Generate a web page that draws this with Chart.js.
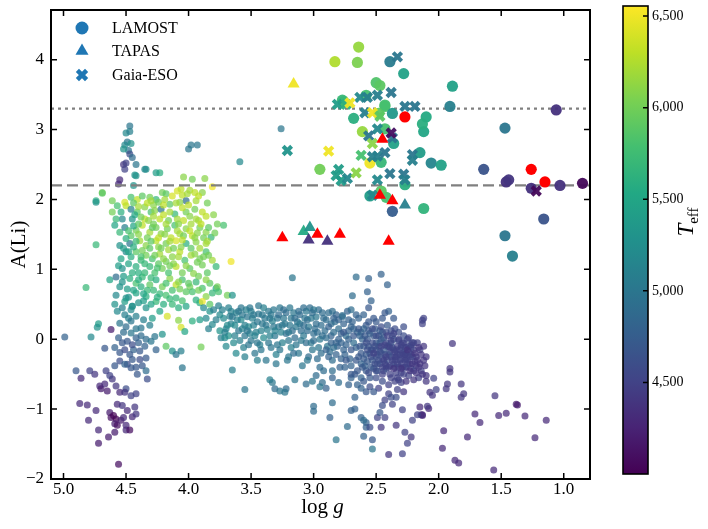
<!DOCTYPE html>
<html><head><meta charset="utf-8">
<script src="https://cdn.jsdelivr.net/npm/chart.js@4.4.1/dist/chart.umd.min.js"></script>
<style>
html,body{margin:0;padding:0;background:#fff;}
#wrap{position:relative;width:708px;height:529px;}
#main{position:absolute;left:0;top:0;}
#cbar{position:absolute;left:600px;top:0;}
</style></head><body>
<div id="wrap"><canvas id="main" width="708" height="529"></canvas><canvas id="cbar" width="108" height="529"></canvas></div>
<script>
// ---------- DATA ----------
const teffRange = [4000, 6555];
const xTicks = [5.0, 4.5, 4.0, 3.5, 3.0, 2.5, 2.0, 1.5, 1.0];
const yTicks = [-2, -1, 0, 1, 2, 3, 4];
const cbTicks = [4500, 5000, 5500, 6000, 6500];
const refLines = [3.3, 2.2];

// background field stars: [logg, A(Li), Teff]
const fieldStars = [
[4.47,3.05,5000],[4.50,2.95,5200],[4.47,2.97,5100],[4.49,2.82,5000],[4.46,2.80,5300],[4.51,2.78,5200],[4.48,2.70,5000],[4.52,2.72,5300],[4.47,2.65,4600],[4.45,2.60,4900],[4.52,2.50,4400],[4.50,2.52,4500],[4.51,2.43,4500],[4.42,2.50,5000],[4.34,2.43,5300],[4.23,2.38,5600],[4.43,2.35,5300],[4.55,2.28,4300],[4.56,2.22,4300],[4.44,2.20,5300],
[4.00,2.72,5000],[3.98,2.78,5000],[3.93,2.78,5000],[3.59,2.54,5200],[3.26,3.01,5000],[4.74,1.98,5600],[4.69,2.10,6000],[4.74,1.35,5700],
[4.04,2.32,6100],[3.97,2.29,6000],[3.87,2.30,6100],[4.26,2.38,5400],[4.35,2.43,5200],[4.42,2.34,5300],[4.69,2.09,5900],[4.74,1.96,5300],
[4.61,1.98,6000],[4.51,1.96,6400],[4.46,2.03,5800],[4.41,2.00,6300],[4.37,2.05,5900],[4.31,2.03,6000],[4.26,2.00,5700],[4.21,2.10,6000],[4.18,2.08,5900],[4.09,2.12,6400],[4.05,2.06,6300],[4.01,2.08,6200],[4.02,1.98,4900],[3.94,1.98,6200],[3.89,2.10,6100],[3.81,2.18,6500],
[4.61,1.82,6000],[4.57,1.91,5800],[4.54,1.82,5600],[4.50,1.91,6300],[4.46,1.86,5100],[4.41,1.82,5900],[4.35,1.89,6100],[4.30,1.82,5800],[4.27,1.84,6100],[4.22,1.86,5000],[4.15,1.93,5900],[4.11,1.79,5700],[4.07,1.96,6100],[4.02,1.82,6000],[3.95,1.86,6000],[3.94,1.72,6200],[3.89,1.82,6300],[4.35,1.72,6300],[4.23,1.72,6300],[4.45,1.72,5300],[4.53,1.72,5200],[4.58,1.72,5700],
[4.59,1.63,5500],[4.55,1.53,5700],[4.51,1.60,5100],[4.46,1.48,5900],[4.42,1.56,6000],[4.37,1.63,6300],[4.31,1.53,6200],[4.26,1.60,6000],[4.22,1.51,6100],[4.17,1.58,6000],[4.11,1.63,5800],[4.07,1.51,6200],[4.02,1.58,6100],[3.97,1.48,6300],[3.91,1.60,6000],[3.86,1.53,6100],[3.82,1.46,5700],[3.77,1.65,6000],[3.72,1.63,5800],
[4.47,1.37,5000],[4.39,1.41,6200],[4.34,1.34,6100],[4.26,1.41,6300],[4.18,1.37,6000],[4.10,1.41,6400],[4.02,1.37,5600],[3.94,1.39,6100],[3.86,1.37,6200],[4.55,1.34,5300],[4.50,1.44,5600],[3.66,1.11,6500],
[4.54,1.15,5500],[4.50,1.25,5200],[4.46,1.18,5600],[4.42,1.25,5900],[4.38,1.13,5700],[4.34,1.20,6000],[4.29,1.15,5800],[4.23,1.22,6200],[4.18,1.11,6000],[4.13,1.18,6100],[4.07,1.25,6300],[4.03,1.13,5800],[3.98,1.20,6200],[3.91,1.15,6000],[3.86,1.25,5800],[3.81,1.13,6200],[3.78,1.04,5700],[4.53,1.01,5300],[4.42,1.04,5600],[4.31,1.04,5700],[4.21,1.01,6000],[4.10,1.04,6300],[3.99,1.01,5900],[3.89,1.06,6000],
[4.63,0.85,5500],[4.58,0.89,4900],[4.53,0.82,5300],[4.47,0.87,5600],[4.42,0.80,5800],[4.37,0.89,5700],[4.31,0.78,5900],[4.26,0.85,5600],[4.21,0.75,6000],[4.15,0.87,6100],[4.10,0.78,6300],[4.05,0.85,5800],[3.99,0.75,6000],[3.94,0.82,5700],[3.89,0.73,5800],[3.83,0.80,5900],[3.78,0.73,5500],
[4.58,0.63,5200],[4.50,0.59,5300],[4.42,0.66,5500],[4.34,0.61,5600],[4.26,0.54,5700],[4.18,0.63,5800],[4.10,0.59,5700],[4.02,0.68,5900],[3.94,0.56,5600],[3.86,0.61,6100],[4.45,0.47,5200],[4.34,0.45,5300],[4.13,0.50,5700],[4.02,0.47,5500],[3.91,0.52,5600],[4.53,0.45,5100],
[4.44,1.95,5900],[4.40,1.90,6200],[4.33,1.95,6300],[4.28,1.92,6100],[4.24,1.96,6000],[4.19,2.00,6200],[4.13,2.05,6400],[4.06,2.15,6300],[3.99,2.13,6200],[3.92,2.05,6300],[3.85,1.95,6000],[4.43,1.78,5500],[4.38,1.75,6000],[4.32,1.70,6100],[4.28,1.76,6200],[4.20,1.78,6300],[4.16,1.70,6000],[4.09,1.72,6200],[4.04,1.70,6300],[3.99,1.76,6100],[3.92,1.70,6200],[3.86,1.76,6300],[3.80,1.78,6100],
[4.48,1.55,5800],[4.44,1.62,5500],[4.40,1.50,6100],[4.33,1.45,6000],[4.29,1.60,5900],[4.24,1.45,6300],[4.19,1.50,6100],[4.14,1.45,6300],[4.09,1.55,6200],[4.04,1.48,6000],[3.99,1.55,6300],[3.93,1.52,6100],[3.88,1.45,6000],[3.84,1.60,5900],[3.79,1.52,6000],
[4.52,1.30,5400],[4.44,1.32,5600],[4.37,1.27,6000],[4.31,1.30,5900],[4.24,1.32,6100],[4.16,1.28,6200],[4.12,1.30,6000],[4.06,1.32,6100],[3.98,1.30,5900],[3.91,1.30,6200],[3.84,1.20,6000],
[4.56,1.05,5400],[4.48,1.08,5500],[4.40,0.95,5600],[4.35,1.08,5700],[4.27,0.95,5800],[4.24,1.08,5900],[4.16,0.95,5800],[4.12,1.08,6100],[4.05,0.95,6000],[3.96,0.94,6100],[3.93,1.10,6000],[3.85,0.95,5900],
[4.55,0.75,5300],[4.49,0.72,5400],[4.44,0.70,5500],[4.38,0.75,5600],[4.33,0.70,5700],[4.28,0.70,5700],[4.23,0.65,5700],[4.13,0.70,5800],[4.07,0.72,6000],[3.97,0.68,5800],[3.81,0.66,5700],
[4.48,0.60,5300],[4.40,0.52,5300],[4.36,0.55,5400],[4.30,0.50,5500],[4.20,0.50,5600],[4.08,0.45,5600],[4.42,0.15,5000],[4.38,0.05,4900],[4.44,-0.15,4800],[4.40,-0.05,4800],[4.36,0.28,5100],[4.31,0.20,5100],[4.48,0.30,5100],[4.52,0.10,4900],[4.56,0.02,4800],[4.53,-0.05,4700],[4.47,-0.22,4700],[4.42,-0.40,4700],[4.37,-0.38,4700],
[4.30,1.98,6200],[4.20,1.92,6300],[4.10,1.95,6200],[4.00,1.92,6300],[3.95,2.10,6300],[4.15,1.82,6200],[4.05,1.88,6300],[3.98,1.65,6200],[4.08,1.65,6100],[4.18,1.65,6200],[4.28,1.65,6000],[4.40,1.65,5900],[3.90,1.65,6300],[3.85,1.40,6200],[3.95,1.45,6100],[4.05,1.42,6300],[4.15,1.40,6200],[4.22,1.30,6000],[4.30,1.40,5900],[4.42,1.40,5700],[4.48,1.25,5500],[4.38,1.18,5800],[4.27,1.20,6000],[4.20,1.15,6100],[4.08,1.18,6200],[3.95,1.22,6100],[3.88,1.18,6000],[4.45,0.95,5600],[4.35,0.95,5700],[4.25,1.02,5800],[4.15,1.05,6000],[4.02,1.05,6100],[3.92,0.90,6000],[3.86,0.85,6100],[4.52,0.90,5400],[4.40,0.85,5600],[4.30,0.88,5700],[4.18,0.80,5800],[4.08,0.82,6100],[4.00,0.80,5900],[3.92,0.70,6000],[4.36,0.65,5500],[4.25,0.60,5600],[4.15,0.58,5700],[4.05,0.55,5800],
[4.82,0.74,5700],[3.69,0.63,6000],[3.65,0.63,5300],[3.77,0.75,6000],[3.76,0.68,5800],[3.89,0.54,6500],[3.83,0.50,5900],
[4.99,0.03,4800],[4.78,0.03,5200],[4.72,0.22,5400],[4.73,0.17,5300],[4.62,0.14,4200],[4.67,-0.13,4700],
[4.59,-0.12,4800],[4.55,-0.19,4700],[4.51,-0.15,4600],[4.49,-0.03,4700],[4.45,-0.08,4600],[4.42,0.02,4800],[4.46,0.09,5000],[4.50,0.18,4900],[4.46,0.26,5000],[4.42,0.33,5100],[4.38,0.16,5000],[4.39,-0.17,4700],[4.35,-0.10,4800],[4.34,0.00,4900],[4.30,-0.03,5000],[4.27,0.04,5000],[4.26,-0.15,4800],[4.34,-0.27,4700],[4.39,-0.29,4600],[4.45,-0.29,4700],[4.49,-0.36,4600],[4.55,0.23,5000],[4.51,0.35,5100],[4.46,0.42,5200],[4.57,0.40,5200],[4.59,0.50,5300],[4.51,0.54,5400],[4.45,0.47,5300],
[4.18,-0.10,5900],[4.13,-0.17,5300],[4.10,-0.22,5000],[4.06,-0.17,5100],[4.05,-0.41,5000],[3.90,-0.11,6000],[4.06,0.17,6400],[4.08,0.27,6100],[3.97,0.26,5600],[3.91,0.28,5400],[4.03,0.11,5500],[4.21,0.07,5300],[4.17,0.33,6400],[4.29,0.30,5400],[4.23,0.40,5500],[3.83,0.40,5300],[3.81,0.21,5200],[3.75,0.35,5200],[3.74,0.02,5100],
[4.90,-0.45,4700],[4.86,-0.56,4300],[4.79,-0.45,4500],[4.75,-0.50,4400],[4.71,-0.67,4300],[4.70,-0.71,4200],[4.67,-0.64,4300],[4.65,-0.74,4200],[4.87,-0.92,4300],[4.81,-0.94,4300],[4.80,-1.16,4300],[4.74,-1.02,4300],[4.72,-1.30,4300],[4.72,-1.49,4200],[4.64,-1.40,4200],[4.59,-1.33,4200],[4.56,-1.79,4100],
[4.63,-1.05,4200],[4.62,-1.12,4100],[4.60,-1.09,4000],[4.58,-1.14,4000],[4.59,-1.21,4200],[4.57,-1.23,4100],[4.54,-1.16,4200],[4.52,-1.12,4300],[4.50,-1.23,4300],[4.50,-1.30,4300],[4.49,-1.02,4300],[4.47,-1.30,4100],[4.57,-0.93,4300],[4.53,-0.95,4400],[4.45,-1.11,4300],[4.42,-1.07,4400],[4.43,-0.97,4400],
[4.42,-0.78,4500],[4.46,-0.81,4500],[4.50,-0.71,4600],[4.61,-0.57,4400],[4.58,-0.67,4400],[4.55,-0.76,4300],[4.51,-0.76,4400],[4.66,-0.45,4500],[4.63,-0.52,4500],[4.59,-0.38,4700],[4.55,-0.31,4600],[4.51,-0.36,4800],[4.46,-0.41,4700],[4.41,-0.50,4700],[4.34,-0.45,4900],[4.33,-0.57,4600],
[3.72,0.30,5200],[3.70,0.15,5100],[3.68,0.05,5300],[3.66,0.22,5100],[3.64,-0.05,5200],[3.62,0.38,5100],[3.60,0.12,5000],[3.58,0.28,5200],[3.56,-0.12,5100],[3.55,0.05,5000],[3.54,0.42,5100],[3.52,0.18,5200],[3.50,-0.02,5000],[3.49,0.30,5100],[3.47,-0.20,5000],[3.46,0.10,5100],[3.44,0.36,5000],[3.43,-0.08,5100],[3.41,0.22,5000],[3.40,0.02,5200],[3.38,-0.30,5000],[3.37,0.14,5100],[3.36,0.40,5000],[3.34,-0.12,5000],[3.33,0.26,5100],[3.31,0.05,5000],[3.30,-0.22,5100],[3.28,0.18,5000],[3.27,0.45,5000],[3.25,-0.05,5100],[3.24,0.30,5000],[3.22,0.08,4900],[3.21,-0.30,5000],[3.19,0.20,5000],[3.18,-0.12,5100],[3.16,0.38,5000],[3.15,0.02,4900],[3.13,0.25,5000],[3.12,-0.20,5000],[3.10,0.12,4900],[3.09,-0.38,5000],[3.07,0.30,5000],[3.06,-0.05,4900],[3.04,0.18,5000],[3.03,0.45,4900],[3.01,-0.15,5000],[3.00,0.08,4900],[2.98,0.32,5000],[2.97,-0.28,4900],[2.95,0.00,5000],[2.94,0.20,4900],[2.92,-0.45,4900],[2.91,0.12,4900],[2.89,-0.10,5000],[2.88,0.38,4900],[2.86,0.05,4800],[2.85,-0.30,4900],[2.83,0.25,4900],[2.82,-0.05,4800],[2.80,0.15,4900],[2.79,-0.40,4800],[2.77,0.32,4900],[2.76,-0.15,4800],[2.74,0.05,4900],[2.73,0.40,4800],[2.71,-0.28,4800],[2.70,0.18,4800],[2.68,-0.05,4900],[2.67,-0.50,4700],[2.65,0.10,4800],[2.64,0.30,4800],[2.62,-0.20,4700],[2.61,0.00,4800],[2.59,-0.38,4800],[2.58,0.20,4700],[2.56,-0.10,4700],[2.55,0.08,4800],[2.53,-0.30,4700],[2.52,0.30,4700],[2.50,-0.05,4700],[2.49,-0.45,4700],[2.47,0.12,4700],[2.46,-0.20,4600],[2.44,0.02,4700],[2.43,-0.35,4600],[2.41,0.20,4700],[2.40,-0.10,4600],[2.38,-0.25,4600],[2.37,0.05,4700],[2.35,-0.40,4600],[2.34,-0.15,4600],[2.32,0.10,4600],[2.31,-0.30,4600],[2.29,-0.05,4600],[2.28,-0.50,4500],[2.26,-0.20,4600],[2.25,0.00,4600],[2.23,-0.35,4500],[2.22,-0.12,4600],[2.20,-0.45,4500],[2.18,-0.25,4500],[2.16,-0.55,4500],
[3.71,0.02,5200],[3.67,0.33,5100],[3.63,0.20,5200],[3.59,-0.02,5100],[3.57,0.15,5100],[3.53,0.32,5000],[3.51,0.08,5100],[3.48,0.20,5100],[3.45,-0.05,5000],[3.42,0.12,5100],[3.39,0.30,5000],[3.35,0.05,5100],[3.32,0.18,5000],[3.29,-0.08,5000],[3.26,0.10,5100],[3.23,0.22,5000],[3.20,-0.02,5000],[3.17,0.12,4900],[3.14,-0.08,5000],[3.11,0.22,5000],[3.08,0.05,5000],[3.05,0.28,4900],[3.02,-0.05,5000],[2.99,0.15,4900],[2.96,-0.12,5000],[2.93,0.05,4900],[2.90,0.28,4900],[2.87,-0.18,4900],[2.84,0.10,4900],[2.81,-0.10,4800],[2.78,0.08,4800],[2.75,-0.22,4800],[2.72,0.00,4800],[2.69,0.25,4800],[2.66,-0.12,4800],[2.63,0.05,4800],[2.60,-0.28,4700],[2.57,0.00,4700],[2.54,-0.15,4700],[2.51,0.15,4700],[2.48,-0.10,4700],[2.45,-0.28,4600],[2.42,-0.05,4600],[2.39,-0.18,4600],[2.36,0.00,4600],[2.33,-0.22,4600],[2.30,-0.12,4600],[2.27,-0.30,4500],[2.24,-0.10,4600],[2.21,-0.25,4500],[2.53,-0.05,4600],[2.50,-0.25,4600],[2.47,-0.35,4600],[2.44,-0.15,4700],[2.41,-0.30,4600],[2.38,-0.05,4700],[2.35,-0.25,4500],[2.32,-0.40,4500],[2.29,-0.20,4600],[2.26,-0.40,4500],[2.62,-0.35,4800],[2.58,-0.45,4700],[2.55,-0.55,4700],[2.52,-0.42,4600],[2.60,0.15,4800],[2.48,0.05,4700],[2.45,0.10,4700],[2.42,-0.42,4600],[2.39,-0.50,4500],[2.36,-0.35,4600],[2.33,-0.55,4500],[2.30,-0.48,4500],[2.27,-0.12,4600],[2.24,-0.52,4500],[2.21,-0.05,4600],[2.18,-0.38,4500],[2.15,-0.15,4500],[2.14,-0.45,4500],[2.12,-0.30,4400],[2.10,-0.60,4400],
[3.69,0.20,5200],[3.66,0.40,5100],[3.61,0.28,5100],[3.58,0.45,5000],[3.55,0.20,5100],[3.52,-0.08,5000],[3.50,0.40,5100],[3.47,0.05,5100],[3.45,0.25,5000],[3.42,-0.15,5000],[3.40,0.45,5100],[3.38,0.20,5000],[3.36,-0.05,5000],[3.34,0.35,5000],[3.31,0.12,5100],[3.29,0.30,5000],[3.27,-0.15,5000],[3.25,0.20,5000],[3.22,0.38,4900],[3.20,0.10,5000],[3.18,0.30,5000],[3.16,-0.20,4900],[3.14,0.18,5000],[3.12,0.40,4900],[3.10,-0.02,5000],[3.08,0.20,4900],[3.06,0.40,5000],[3.04,-0.25,4900],[3.02,0.30,5000],[3.00,-0.02,4900],[2.98,0.22,4900],[2.96,0.42,4900],[2.94,-0.20,4900],[2.92,0.30,4900],[2.90,0.02,4900],[2.88,-0.25,4800],[2.86,0.22,4900],[2.84,-0.12,4900],[2.82,0.35,4800],[2.80,0.00,4800],[2.78,-0.28,4800],[2.76,0.22,4800],[2.74,-0.08,4800],[2.72,0.12,4800],[2.70,-0.38,4800],[2.68,0.15,4800],[2.66,0.35,4800],[2.64,-0.25,4700],[2.62,0.10,4800],[2.60,-0.10,4700],[2.58,-0.22,4700],[2.56,0.12,4700],[2.54,-0.40,4700],[2.52,0.05,4700],[2.50,-0.15,4600],[2.48,-0.30,4600],[2.46,0.00,4700],[2.44,-0.45,4600],[2.42,0.10,4600],[2.40,-0.22,4600],[2.38,0.12,4600],[2.36,-0.15,4500],[2.34,-0.48,4500],[2.32,-0.02,4600],[2.30,-0.35,4500],[2.28,0.05,4600],[2.26,-0.28,4500],[2.24,-0.18,4500],[2.22,-0.42,4500],[2.20,-0.15,4500],[2.19,-0.32,4500],[2.17,-0.05,4500],[2.16,-0.40,4400],
[2.57,-0.32,4700],[2.55,-0.20,4700],[2.53,-0.15,4600],[2.51,-0.35,4600],[2.49,-0.22,4600],[2.47,-0.05,4700],[2.45,-0.40,4500],[2.43,-0.22,4600],[2.41,-0.10,4600],[2.39,-0.38,4500],[2.37,-0.12,4600],[2.35,-0.30,4500],[2.33,-0.10,4500],[2.31,-0.22,4500],[2.29,-0.40,4500],[2.27,-0.22,4500],[2.25,-0.35,4500],[2.23,-0.25,4500],[2.62,-0.55,4800],[2.50,-0.55,4600],[2.45,-0.60,4600],[2.40,-0.65,4500],[2.35,-0.60,4500],[2.30,-0.62,4500],[2.65,-0.65,4800],[2.58,-0.75,4700],[2.70,-0.55,4800],[2.85,-0.45,4900],[2.95,-0.40,4900],[3.05,-0.30,5000],[3.20,-0.25,5000],[3.30,-0.35,5000],[3.45,-0.30,5100],[3.55,-0.25,5100],[3.62,-0.20,5200],[3.70,-0.10,5200],[3.75,0.12,5300],[2.60,0.35,4800],[2.50,0.25,4700],[2.45,0.30,4700],[2.35,0.15,4600],[2.28,0.18,4600],[2.40,0.40,4800],[2.70,0.42,4900],[2.85,0.40,4900],[3.00,0.42,5000],
[3.88,0.45,5200],[3.86,0.30,5200],[3.84,0.15,5100],[3.80,0.42,5100],[3.78,0.28,5100],[3.76,0.48,5100],[3.73,0.42,5100],[3.71,0.10,5100],[3.68,0.45,5100],[3.65,0.32,5000],[3.63,0.05,5100],[3.60,0.40,5000],[3.57,0.35,5000],[3.53,0.12,5000],[3.51,0.45,5000],[3.48,0.35,5000],[3.44,0.48,5000],[3.41,0.35,5000],[3.35,0.30,5000],[3.32,0.42,5000],[3.28,0.35,4900],[3.24,0.42,4900],[3.19,0.45,5000],[3.15,0.30,4900],[3.11,0.35,4900],[3.08,0.45,4900],[3.05,0.12,4900],[3.01,0.38,4900],[2.97,0.10,4900],[2.93,0.38,4900],
[2.90,-0.15,4800],[2.88,0.18,4800],[2.86,-0.05,4800],[2.84,0.30,4800],[2.82,-0.22,4800],[2.80,0.28,4800],[2.78,-0.05,4800],[2.76,0.10,4700],[2.74,-0.30,4700],[2.72,0.28,4800],[2.70,-0.15,4700],[2.68,0.05,4700],[2.66,-0.30,4700],[2.64,0.15,4700],[2.63,-0.10,4700],[2.61,-0.40,4700],[2.59,0.05,4700],[2.57,-0.15,4600],[2.56,0.25,4700],[2.54,-0.25,4600],[2.53,0.15,4600],[2.51,-0.10,4600],[2.50,0.05,4600],[2.49,-0.35,4600],[2.47,-0.18,4600],[2.46,0.18,4600],[2.44,-0.30,4500],[2.43,-0.08,4500],[2.41,0.05,4500],[2.40,-0.40,4500],[2.39,-0.12,4500],[2.37,-0.30,4500],[2.36,0.08,4500],[2.35,-0.18,4500],[2.33,-0.35,4500],[2.32,0.00,4500],[2.31,-0.15,4500],[2.30,-0.28,4500],[2.28,-0.05,4500],[2.27,-0.40,4500],[2.26,-0.12,4500],[2.25,-0.30,4500],[2.24,0.02,4500],[2.23,-0.45,4400],[2.22,-0.22,4500],[2.21,-0.35,4400],[2.20,-0.05,4500],[2.19,-0.20,4400],[2.18,-0.48,4400],[2.17,-0.30,4400],[2.16,-0.12,4400],[2.15,-0.35,4400],[2.14,-0.22,4400],[2.13,-0.50,4400],[2.12,-0.10,4400],[2.11,-0.38,4400],[2.10,-0.25,4400],
[2.45,-0.50,4500],[2.38,-0.55,4500],[2.32,-0.58,4500],[2.26,-0.60,4400],[2.20,-0.58,4400],[2.50,-0.45,4600],[2.56,-0.48,4600],[2.65,-0.45,4700],[2.75,-0.40,4800],[2.70,-0.50,4700],[2.85,-0.55,4800],[2.60,-0.60,4700],[2.55,-0.68,4600],[2.48,-0.70,4500],[2.40,-0.78,4500],[2.33,-0.72,4500],[2.28,-0.75,4400],
[2.58,-0.05,4600],[2.52,-0.20,4500],[2.46,-0.10,4500],[2.42,-0.25,4500],[2.38,-0.02,4500],[2.34,-0.25,4500],[2.30,-0.08,4500],[2.28,-0.22,4500],[2.25,-0.15,4400],[2.22,-0.08,4500],[2.36,-0.42,4400],[2.30,-0.42,4400],[2.42,-0.38,4500],
[2.66,0.89,4900],[2.56,0.87,4800],[2.46,0.93,4800],[2.41,0.78,4800],[2.57,0.68,4800],[2.69,0.62,4900],[2.54,0.55,4800],[2.56,0.45,4700],[2.43,0.38,4700],[2.36,0.30,4700],[2.77,0.34,4900],[3.17,0.88,5000],[2.13,0.27,4500],[2.12,0.30,4500],
[3.65,-0.44,5100],[3.55,-0.72,5000],[3.35,-0.58,5100],[3.33,-0.62,5000],[3.31,-0.71,4900],[3.27,-0.74,5000],[3.22,-0.71,4900],[3.23,-0.76,5000],[3.15,-0.58,5000],[3.06,-0.64,4900],[3.01,-0.60,5000],[3.00,-0.96,4900],[3.00,-1.03,4900],[2.98,-0.52,4900],[2.93,-0.62,4900],[2.90,-0.70,4800],[2.95,-0.68,5000],
[2.85,-0.91,4900],[2.82,-1.44,5000],[2.87,-1.12,4800],[2.73,-1.25,4900],[2.70,-1.02,4800],[2.67,-1.00,4800],[2.67,-0.83,4800],[2.62,-1.12,4800],[2.58,-1.19,4800],[2.60,-1.16,4900],[2.58,-1.26,4800],[2.60,-1.39,4800],[2.53,-1.44,4700],[2.53,-1.57,5000],
[2.55,-1.26,4600],[2.49,-1.12,4500],[2.46,-1.26,4400],[2.43,-1.12,4500],[2.40,-1.65,4400],[2.34,-1.23,4400],[2.29,-1.64,4500],[2.27,-1.33,4500],[2.25,-1.49,4500],[2.22,-1.40,4400],[2.21,-1.16,4500],
[2.15,-0.97,4300],[2.13,-1.09,4300],[2.08,-0.99,4300],[2.43,-0.87,4500],[2.38,-0.83,4600],[2.37,-0.93,4500],[2.34,-0.83,4600],[2.29,-1.01,4500],[2.45,-0.95,4600],[2.47,-1.05,4700],[2.52,-0.75,4700],[2.62,-0.70,4800],[2.72,-0.65,4800],[2.80,-0.62,4900],
[1.89,-0.06,4400],[2.13,0.22,4500],[1.91,-0.42,4400],[1.91,-0.47,4400],[2.10,-0.52,4400],[2.04,-0.56,4500],[1.93,-0.64,4400],[1.82,-0.64,4400],[1.80,-0.78,4400],[1.82,-0.83,4400],[2.07,-0.76,4400],[2.05,-0.80,4400],[2.02,-0.72,4500],[1.94,-0.71,4400],[1.55,-0.81,4400],[1.38,-0.93,4200],[1.37,-0.94,4200],[1.46,-1.06,4300],[1.52,-1.09,4300],[1.31,-1.10,4300],[1.14,-1.16,4300],[1.23,-1.41,4300],[1.71,-1.07,4300],[1.67,-1.19,4300],[1.77,-1.40,4300],[1.96,-1.31,4300],[1.97,-1.56,4300],[1.87,-1.73,4300],[1.84,-1.77,4300],[1.56,-1.87,4300],[2.14,-1.08,4400],[2.13,-1.08,4300],[2.17,-1.08,4500],[2.09,-0.96,4400]
];

// LAMOST Li-rich giants: [logg, A(Li), Teff]
const lamost = [
[2.64,4.18,6150],[2.83,3.97,6250],[2.65,3.96,6050],[2.39,3.97,5050],[2.28,3.80,5450],[2.50,3.67,5850],[2.47,3.63,5900],[1.89,3.62,5450],[1.91,3.33,5100],[1.06,3.28,4350],[1.47,3.02,5000],[2.68,3.16,5600],[2.10,3.18,5550],[2.12,2.97,5500],[2.13,3.08,5600],[2.61,2.97,6150],[2.43,3.01,5800],[2.36,2.80,5450],[2.43,3.33,5850],[2.37,3.23,5350],[2.15,2.67,5400],[2.06,2.52,5150],[1.98,2.49,5450],[2.95,2.43,6000],[2.46,2.53,5700],[2.27,2.21,5600],[1.64,2.43,4650],[1.46,2.25,4350],[1.44,2.28,4400],[1.26,2.16,4350],[1.03,2.20,4350],[0.85,2.23,4050],[1.16,1.72,4650],[1.47,1.48,5000],[1.41,1.19,5100],[2.55,2.05,5400],[2.42,2.03,5800],[2.46,2.12,5900],[2.37,1.83,4750],[2.12,1.87,5650],[2.76,3.40,5800],[2.77,3.42,5700],[2.48,3.23,5900],[2.58,3.49,5800],[2.55,2.52,6500],[2.43,3.35,5800]
];
const lamostRed = [[2.27,3.18],[1.26,2.43],[1.15,2.25]];

// TAPAS
const tapas = [[3.16,3.65,6500],[2.27,1.92,5100],[3.08,1.54,5550],[3.03,1.60,5300],[3.04,1.42,4350],[2.89,1.40,4350]];
const tapasRed = [[2.45,2.86],[2.47,2.06],[2.37,1.98],[3.25,1.45],[2.97,1.50],[2.79,1.50],[2.40,1.40]];

// Gaia-ESO
const gaiaESO = [
[2.33,4.04,5000],[2.38,3.53,5000],[2.63,3.46,5200],[2.57,3.46,5100],[2.49,3.49,5100],[2.81,3.36,5400],[2.74,3.36,5600],[2.27,3.33,5000],[2.19,3.33,5000],[2.59,3.24,5100],[2.71,3.38,6500],[2.53,3.24,6500],[2.47,3.19,5900],[2.49,3.01,5200],[2.56,2.91,5000],[2.37,2.88,5000],[2.53,2.80,6100],[3.21,2.70,5300],[2.88,2.69,6500],[2.62,2.63,5800],[2.53,2.61,5100],[2.49,2.62,5100],[2.43,2.67,5000],[2.21,2.64,5000],[2.21,2.56,5100],[2.80,2.43,5400],[2.82,2.34,5400],[2.78,2.27,5400],[2.73,2.30,5200],[2.66,2.38,6100],[2.39,2.37,5000],[2.28,2.36,5000],[2.27,2.28,5100],[2.49,2.28,5200],[2.53,2.06,5200],[1.22,2.12,4050],[2.38,2.95,4100]
];

// ---------- STYLE ----------
const SERIF = '"Liberation Serif", "DejaVu Serif", serif';
const VIR = ['#440154','#482475','#414487','#355f8d','#2a788e','#21918c','#22a884','#44bf70','#7ad151','#bddf26','#fde725'];
function hex2rgb(h){return [parseInt(h.substr(1,2),16),parseInt(h.substr(3,2),16),parseInt(h.substr(5,2),16)];}
function viridis(t){t=Math.max(0,Math.min(1,t));const s=t*10;const i=Math.min(9,Math.floor(s));const f=s-i;const a=hex2rgb(VIR[i]),b=hex2rgb(VIR[i+1]);return a.map((v,k)=>Math.round(v+(b[k]-v)*f));}
function teffColor(T,alpha){const c=viridis((T-teffRange[0])/(teffRange[1]-teffRange[0]));return `rgba(${c[0]},${c[1]},${c[2]},${alpha})`;}
const toPts = arr => arr.map(p=>({x:p[0],y:p[1]}));
const LEG = '#1f77b4';
const X_MIN = 0.79, X_MAX = 5.1, Y_MIN = -2, Y_MAX = 4.71;

const hLine = (yv, dash, w) => ({type:'line', data:[{x:X_MAX,y:yv},{x:X_MIN,y:yv}], borderColor:'#808080', borderWidth:w, borderDash:dash, pointRadius:0, fill:false, order:6});
function zeroPad(s){s.paddingTop=0;s.paddingBottom=0;s.paddingLeft=0;s.paddingRight=0;}

const mainPlugin = {
  id:'mainDeco',
  afterDraw(chart){
    const {ctx, chartArea:a, scales:{x,y}} = chart;
    ctx.save();
    ctx.strokeStyle='#000'; ctx.lineWidth=1.5;
    ctx.beginPath();
    x.ticks.forEach(t=>{const p=x.getPixelForValue(t.value);ctx.moveTo(p,a.bottom);ctx.lineTo(p,a.bottom-6);ctx.moveTo(p,a.top);ctx.lineTo(p,a.top+6);});
    y.ticks.forEach(t=>{const p=y.getPixelForValue(t.value);ctx.moveTo(a.left,p);ctx.lineTo(a.left+6,p);ctx.moveTo(a.right,p);ctx.lineTo(a.right-6,p);});
    ctx.stroke();
    ctx.lineWidth=2;
    ctx.strokeRect(a.left,a.top,a.right-a.left,a.bottom-a.top);
    // x title: log g
    ctx.fillStyle='#000'; ctx.textBaseline='alphabetic';
    ctx.font='21px '+SERIF; const w1=ctx.measureText('log ').width;
    ctx.font='italic 21px '+SERIF; const w2=ctx.measureText('g').width;
    const cx=(a.left+a.right)/2+2, sx=cx-(w1+w2)/2;
    ctx.font='21px '+SERIF; ctx.textAlign='left'; ctx.fillText('log ',sx,513);
    ctx.font='italic 21px '+SERIF; ctx.fillText('g',sx+w1,513);
    // y title
    ctx.save(); ctx.translate(25,(a.top+a.bottom)/2); ctx.rotate(-Math.PI/2);
    ctx.font='21px '+SERIF; ctx.textAlign='center'; ctx.fillText('A(Li)',0,0); ctx.restore();
    // legend
    const lx=82, ly=[28,51,75];
    ctx.fillStyle=LEG; ctx.strokeStyle=LEG;
    ctx.beginPath(); ctx.arc(lx,ly[0],6.5,0,Math.PI*2); ctx.fill();
    ctx.beginPath(); const r=7.5; ctx.moveTo(lx,ly[1]-r); ctx.lineTo(lx+r*0.866,ly[1]+r*0.5); ctx.lineTo(lx-r*0.866,ly[1]+r*0.5); ctx.closePath(); ctx.fill();
    ctx.lineWidth=4.5; ctx.beginPath(); const d=4.6; ctx.moveTo(lx-d,ly[2]-d); ctx.lineTo(lx+d,ly[2]+d); ctx.moveTo(lx+d,ly[2]-d); ctx.lineTo(lx-d,ly[2]+d); ctx.stroke();
    ctx.fillStyle='#000'; ctx.font='16px '+SERIF; ctx.textAlign='left'; ctx.textBaseline='middle';
    const names = chart.data.datasets.filter(ds=>ds.legendName).map(ds=>ds.legendName);
    names.forEach((n,i)=>ctx.fillText(n,112,ly[i]+1));
    ctx.restore();
  }
};

new Chart(document.getElementById('main'), {
  type:'scatter',
  data:{datasets:[
    {label:'field', data:toPts(fieldStars), pointRadius:3.5, pointHoverRadius:3.5, borderWidth:0,
      backgroundColor:fieldStars.map(p=>teffColor(p[2],0.72)), order:10},
    hLine(refLines[0],[3,4],2.2),
    hLine(refLines[1],[11,5],2.2),
    {label:'LAMOST', legendName:'LAMOST', data:toPts(lamost), pointStyle:'circle', pointRadius:5.6, borderWidth:0,
      backgroundColor:lamost.map(p=>teffColor(p[2],0.95)), order:4},
    {label:'LAMOST red', data:toPts(lamostRed), pointStyle:'circle', pointRadius:5.6, borderWidth:0, backgroundColor:'#ff0000', order:3},
    {label:'TAPAS', legendName:'TAPAS', data:toPts(tapas), pointStyle:'triangle', pointRadius:7, borderWidth:0,
      backgroundColor:tapas.map(p=>teffColor(p[2],0.95)), order:2},
    {label:'TAPAS red', data:toPts(tapasRed), pointStyle:'triangle', pointRadius:7, borderWidth:0, backgroundColor:'#ff0000', order:1},
    {label:'Gaia-ESO', legendName:'Gaia-ESO', data:toPts(gaiaESO), pointStyle:'crossRot', pointRadius:6, borderWidth:4,
      borderColor:gaiaESO.map(p=>teffColor(p[2],0.95)), backgroundColor:gaiaESO.map(p=>teffColor(p[2],0.95)), order:2.5}
  ]},
  options:{
    responsive:false, animation:false, devicePixelRatio:1,
    layout:{padding:{top:6,right:118,left:0,bottom:0}},
    plugins:{legend:{display:false}, tooltip:{enabled:false}},
    scales:{
      x:{type:'linear', reverse:true, min:X_MIN, max:X_MAX,
        afterFit(s){s.height=50; zeroPad(s);},
        afterBuildTicks(s){s.ticks=xTicks.map(v=>({value:v}));},
        grid:{display:false, drawTicks:false}, border:{display:false},
        ticks:{padding:0, color:'#000', font:{family:SERIF,size:17}, callback:v=>Number(v).toFixed(1), maxRotation:0}},
      y:{type:'linear', min:Y_MIN, max:Y_MAX,
        afterFit(s){s.width=51; zeroPad(s);},
        afterBuildTicks(s){s.ticks=yTicks.map(v=>({value:v}));},
        grid:{display:false, drawTicks:false}, border:{display:false},
        ticks:{padding:7, color:'#000', font:{family:SERIF,size:17}, callback:v=>v<0?'\u2212'+Math.abs(v):String(v)}}
    }
  },
  plugins:[mainPlugin]
});

// ---------- COLORBAR ----------
const cbPlugin = {
  id:'cbDeco',
  afterDraw(chart){
    const {ctx, chartArea:a, scales:{y}} = chart;
    ctx.save();
    ctx.strokeStyle='#000'; ctx.lineWidth=1.5;
    ctx.beginPath();
    y.ticks.forEach(t=>{const p=y.getPixelForValue(t.value);ctx.moveTo(a.right,p);ctx.lineTo(a.right-5,p);});
    ctx.stroke();
    ctx.lineWidth=1.6; ctx.strokeRect(a.left,a.top,a.right-a.left,a.bottom-a.top);
    ctx.translate(93,222); ctx.rotate(-Math.PI/2);
    ctx.fillStyle='#000'; ctx.textBaseline='alphabetic';
    ctx.font='italic 23px '+SERIF; const wT=ctx.measureText('T').width;
    ctx.font='15px '+SERIF; const wE=ctx.measureText('eff').width;
    const sx=-(wT+wE)/2;
    ctx.font='italic 23px '+SERIF; ctx.textAlign='left'; ctx.fillText('T',sx,0);
    ctx.font='15px '+SERIF; ctx.fillText('eff',sx+wT,5);
    ctx.restore();
  }
};
new Chart(document.getElementById('cbar'), {
  type:'bar',
  data:{labels:['Teff'], datasets:[{data:[[teffRange[0],teffRange[1]]], barPercentage:1, categoryPercentage:1, borderWidth:0,
    backgroundColor:(c)=>{const ch=c.chart; const a=ch.chartArea; if(!a) return '#21918c';
      const g=ch.ctx.createLinearGradient(0,a.bottom,0,a.top); VIR.forEach((h,i)=>g.addColorStop(i/10,h)); return g;}}]},
  options:{
    responsive:false, animation:false, devicePixelRatio:1,
    layout:{padding:{left:23,top:6,bottom:55,right:0}},
    plugins:{legend:{display:false}, tooltip:{enabled:false}},
    scales:{
      x:{display:false},
      y:{position:'right', min:teffRange[0], max:teffRange[1],
        afterFit(s){s.width=60; zeroPad(s);},
        afterBuildTicks(s){s.ticks=cbTicks.map(v=>({value:v}));},
        grid:{display:false, drawTicks:false}, border:{display:false},
        ticks:{padding:4, color:'#000', font:{family:SERIF,size:14}}}
    }
  },
  plugins:[cbPlugin]
});
</script></body></html>
